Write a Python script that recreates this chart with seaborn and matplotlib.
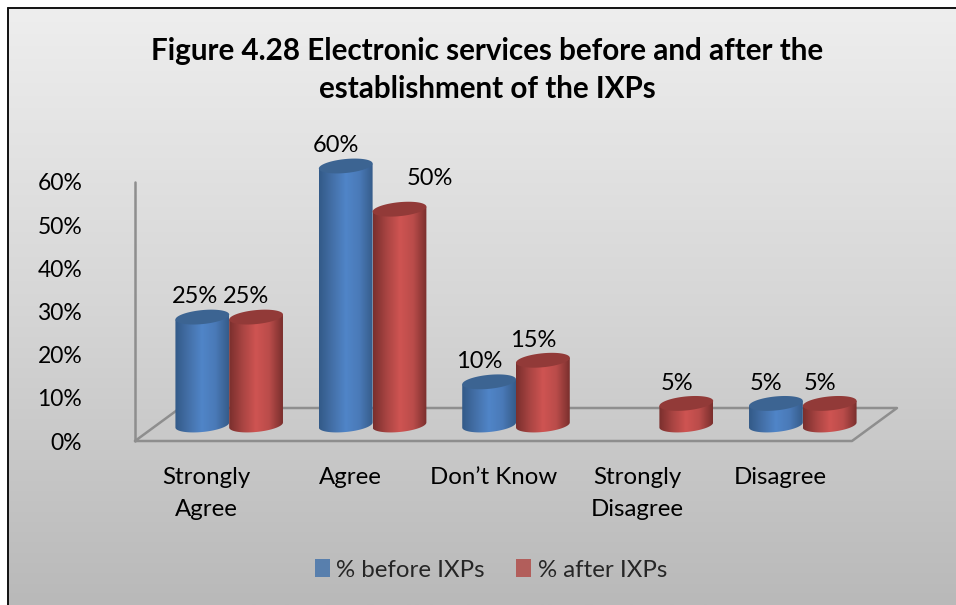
import numpy as np
import pandas as pd
import seaborn as sns
import matplotlib.pyplot as plt
from matplotlib.colors import LinearSegmentedColormap
from matplotlib.patches import Polygon

# Values
categories = ["Strongly\nAgree", "Agree", "Don\u2019t Know", "Strongly\nDisagree", "Disagree"]
before_ixps = [25, 60, 10, 0, 5]
after_ixps = [25, 50, 15, 5, 5]
y_ticks = [0, 10, 20, 30, 40, 50, 60]
series_names = ["% before IXPs", "% after IXPs"]

W, H = 956, 605
PX_PER_PCT = 259 / 60


def box(left, top, right, bottom):
    # pixel box (from top left) to figure fractions
    return [left / W, 1 - bottom / H, (right - left) / W, (bottom - top) / H]


sns.set_theme(style="white")
plt.rcParams["font.family"] = ["Lato", "DejaVu Sans"]

fig = plt.figure(figsize=(W / 100, H / 100), dpi=100, facecolor="white")

# background panel with the grey gradient and black edge
ax_bg = fig.add_axes([0, 0, 1, 1], zorder=0)
ax_bg.set_xlim(0, W)
ax_bg.set_ylim(H, 0)
ax_bg.axis("off")
grey = LinearSegmentedColormap.from_list("panel", ["#eeeeee", "#d6d6d6", "#b9b9b9"])
ax_bg.imshow(np.linspace(0, 1, 256).reshape(-1, 1), cmap=grey, extent=[8, W, H, 8], aspect="auto", zorder=0)
ax_bg.set_xlim(0, W)
ax_bg.set_ylim(H, 0)
ax_bg.plot([8, 8], [H, 8], color="#111111", lw=1.4, zorder=1)
ax_bg.plot([8, W], [8, 8], color="#111111", lw=1.4, zorder=1)

# wall and floor of the fake 3d box
wall = "#8e8e8e"
ax_bg.plot([135, 135], [182, 441], color=wall, lw=1.8, zorder=2)
ax_bg.plot([135, 852, 897, 180, 135], [441, 441, 408, 408, 441], color=wall, lw=1.8, zorder=2)

# front axis carries the tick labels
ax_front = fig.add_axes(box(135, 182, 852, 441), zorder=1)
ax_front.patch.set_alpha(0)
ax_front.set_xlim(-0.5, 4.5)
ax_front.set_ylim(0, 60)
ax_front.set_yticks(y_ticks)
ax_front.set_yticklabels([f"{t}%" for t in y_ticks], fontsize=16.5, color="black")
ax_front.set_xticks(range(len(categories)))
ax_front.set_xticklabels(categories, fontsize=17.3, color="black", linespacing=1.66)
ax_front.tick_params(axis="y", length=0, pad=38)
ax_front.tick_params(axis="x", length=0, pad=18.5)
sns.despine(ax=ax_front, left=True, bottom=True)

# bars sit half way back on the floor
base_px = 425
ax_bars = fig.add_axes(box(157.5, base_px - 70 * PX_PER_PCT, 874.5, base_px + 4 * PX_PER_PCT), zorder=2)
ax_bars.patch.set_alpha(0)

df = pd.DataFrame({
    "category": categories * 2,
    "value": before_ixps + after_ixps,
    "series": [series_names[0]] * 5 + [series_names[1]] * 5,
})
sns.barplot(data=df, x="category", y="value", hue="series", order=categories,
            palette=["#4a7ebb", "#c0504d"], width=0.75, gap=0, errorbar=None, linewidth=0, ax=ax_bars)
ax_bars.set_xlim(-0.5, 4.5)
ax_bars.set_ylim(-4, 70)
ax_bars.axis("off")

shades = [["#335a88", "#4470a8", "#5085c8", "#4a7ab8", "#365c8a"],
          ["#7a2f2d", "#a84442", "#cf5452", "#ba4c4a", "#7a2f2d"]]
lids = ["#3c6492", "#923a38"]
# label offsets in points from the lid centre, two labels were moved by hand in the original
label_shift = {(0, 0): (-5, 14.5), (1, 1): (22, 22)}

t = np.linspace(0, np.pi, 60)
b = 7 / PX_PER_PCT      # half height of the ellipse
tilt = 2.5 / PX_PER_PCT

for s, bars in enumerate(ax_bars.containers):
    cmap = LinearSegmentedColormap.from_list(f"cyl{s}", shades[s])
    for c, bar in enumerate(bars):
        val = bar.get_height()
        bar.set_visible(False)
        if val == 0:
            continue
        cx = bar.get_x() + bar.get_width() / 2
        a = bar.get_width() / 2
        xs = cx + a * np.cos(t)
        top = val + b * np.sin(t) + tilt * np.cos(t)
        bot = -b * np.sin(t) + tilt * np.cos(t)
        body = np.column_stack([np.r_[xs, xs[::-1]], np.r_[val + tilt * np.cos(t), bot[::-1]]])
        im = ax_bars.imshow(np.linspace(0, 1, 128).reshape(1, -1), cmap=cmap, aspect="auto",
                            extent=[cx - a, cx + a, -b * 2, val + b * 2], zorder=3 + s)
        im.set_clip_path(Polygon(body, transform=ax_bars.transData))
        lid = np.column_stack([np.r_[xs, xs[::-1]], np.r_[top, val - b * np.sin(t[::-1]) + tilt * np.cos(t[::-1])]])
        ax_bars.add_patch(Polygon(lid, closed=True, facecolor=lids[s], edgecolor="none", zorder=3 + s))
        dx, dy = label_shift.get((s, c), (-7, 14.5))
        ax_bars.annotate(f"{val:.0f}%", (cx, val), xytext=(dx, dy), textcoords="offset points",
                         ha="center", va="center", fontsize=17, color="black", zorder=10)
ax_bars.set_xlim(-0.5, 4.5)
ax_bars.set_ylim(-4, 70)

handles, labels = ax_bars.get_legend_handles_labels()
for h in handles:
    h.set_edgecolor("none")
ax_bars.legend(handles, labels, loc="center", bbox_to_anchor=(491 / W, 1 - 570 / H),
               bbox_transform=fig.transFigure, ncol=2, frameon=False, fontsize=17.3,
               handlelength=0.62, handleheight=0.77, handletextpad=0.28, columnspacing=1.3)

fig.text(487 / W, 1 - 70 / H, "Figure 4.28 Electronic services before and after the\nestablishment of the IXPs",
         ha="center", va="center", fontsize=21.3, fontweight="bold", color="black", linespacing=1.47)

plt.savefig("out.png", dpi=100)
